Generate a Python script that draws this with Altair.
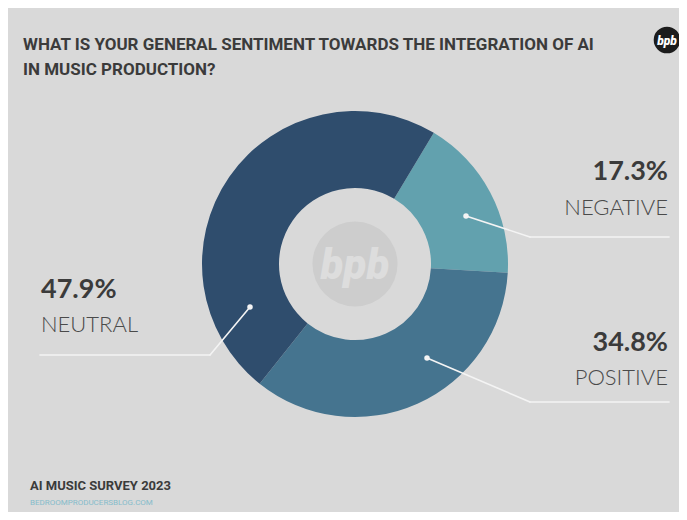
import math
import altair as alt
import pandas as pd

# ---- data ----
categories = ["NEGATIVE", "POSITIVE", "NEUTRAL"]
values = [17.3, 34.8, 47.9]
colors = ["#62a1ae", "#45748f", "#2f4d6d"]

title_lines = ["WHAT IS YOUR GENERAL SENTIMENT TOWARDS THE INTEGRATION OF AI",
               "IN MUSIC PRODUCTION?"]
footer_title = "AI MUSIC SURVEY 2023"
footer_site = "BEDROOMPRODUCERSBLOG.COM"

# ---- layout (pixels, chart coordinates) ----
W, H = 671, 504
CX, CY = 347, 256
R_OUT, R_IN = 153, 76
START = math.radians(31)

label_pos = {  # percent x, percent y, name y, align
    "NEGATIVE": (660, 172, 207, "right"),
    "POSITIVE": (660, 343, 377, "right"),
    "NEUTRAL": (33, 290, 324, "left"),
}
leaders = {
    "NEGATIVE": [(458, 208), (522, 229), (661, 229)],
    "POSITIVE": [(419, 350), (522, 394), (661, 394)],
    "NEUTRAL": [(242, 299), (202, 347), (32, 347)],
}

BG = "#d9d9d9"
TEXT = "#3b3b3b"
COND = "Roboto"

df = pd.DataFrame({"category": categories, "value": values,
                   "order": list(range(len(categories)))})

donut = alt.Chart(df).mark_arc(innerRadius=R_IN, outerRadius=R_OUT).encode(
    theta=alt.Theta("value:Q", stack=True,
                    scale=alt.Scale(range=[START, START + 2 * math.pi])),
    color=alt.Color("category:N", scale=alt.Scale(domain=categories, range=colors),
                    legend=None),
    order=alt.Order("order:Q"),
    x=alt.value(CX), y=alt.value(CY),
)

wm_circle = alt.Chart(alt.Data(values=[{}])).mark_circle(
    size=math.pi * 48 ** 2, color="#cdcdcd", opacity=1
).encode(x=alt.value(CX), y=alt.value(CY))
wm_text = alt.Chart(alt.Data(values=[{}])).mark_text(
    text="bpb", fontSize=42, fontWeight=900, fontStyle="italic", font="Roboto",
    color="#dddddd", align="center", baseline="middle"
).encode(x=alt.value(CX), y=alt.value(CY + 2))

# leader lines
segs = []
dots = []
for c in categories:
    pts = leaders[c]
    dots.append({"x": pts[0][0], "y": pts[0][1]})
    for (a, b) in zip(pts[:-1], pts[1:]):
        segs.append({"x": a[0], "y": a[1], "x2": b[0], "y2": b[1]})
seg_df = pd.DataFrame(segs)
dot_df = pd.DataFrame(dots)

lines = alt.Chart(seg_df).mark_rule(color="#f4f4f4", strokeWidth=1.6, strokeCap="round").encode(
    x=alt.X("x:Q", scale=None, axis=None), x2="x2:Q",
    y=alt.Y("y:Q", scale=None, axis=None), y2="y2:Q",
)
dot_layer = alt.Chart(dot_df).mark_circle(color="#f4f4f4", size=30, opacity=1).encode(
    x=alt.X("x:Q", scale=None, axis=None), y=alt.Y("y:Q", scale=None, axis=None)
)

# labels built from the data
lab_rows = []
for c, v in zip(categories, values):
    px, py, ny, al = label_pos[c]
    lab_rows.append({"category": c, "pct": f"{v}%", "lx": px, "py": py, "ny": ny, "al": al})
lab_df = pd.DataFrame(lab_rows)

text_layers = []
for al in ["right", "left"]:
    sub = lab_df[lab_df["al"] == al]
    base = alt.Chart(sub)
    text_layers.append(base.mark_text(align=al, baseline="alphabetic", fontSize=27,
                                      fontWeight="bold", font="Lato", color=TEXT).encode(
        x=alt.X("lx:Q", scale=None, axis=None), y=alt.Y("py:Q", scale=None, axis=None),
        text="pct:N"))
    text_layers.append(base.mark_text(align=al, baseline="alphabetic", fontSize=22,
                                      fontWeight=300, font="Lato", color="#4a4a4a").encode(
        x=alt.X("lx:Q", scale=None, axis=None), y=alt.Y("ny:Q", scale=None, axis=None),
        text="category:N"))

def txt(s, x, y, size, weight, color, font=COND, align="left"):
    return alt.Chart(alt.Data(values=[{}])).mark_text(
        text=s, fontSize=size, fontWeight=weight, color=color, font=font,
        align=align, baseline="alphabetic"
    ).encode(x=alt.value(x), y=alt.value(y))

title1 = txt(title_lines[0], 15, 42, 17, "bold", TEXT)
title2 = txt(title_lines[1], 15, 67, 17, "bold", TEXT)
foot1 = txt(footer_title, 22, 482, 13, "bold", TEXT)
foot2 = txt(footer_site, 22, 497, 8, "normal", "#86bccb")

logo_c = alt.Chart(alt.Data(values=[{}])).mark_circle(
    size=math.pi * 15 ** 2, color="#1c1c1c", opacity=1
).encode(x=alt.value(659), y=alt.value(32))
logo_t = alt.Chart(alt.Data(values=[{}])).mark_text(
    text="bpb", fontSize=12, fontWeight=900, fontStyle="italic", font="Roboto",
    color="#ffffff", align="center", baseline="middle"
).encode(x=alt.value(659), y=alt.value(33))

chart = alt.layer(
    donut, wm_circle, wm_text, lines, dot_layer, *text_layers,
    title1, title2, foot1, foot2, logo_c, logo_t
).properties(
    width=W, height=H, background=BG, padding=0,
    autosize=alt.AutoSizeParams(type="none")
).configure_view(stroke=None)

chart.save("out.html", embed_options={"renderer": "svg", "actions": False})
